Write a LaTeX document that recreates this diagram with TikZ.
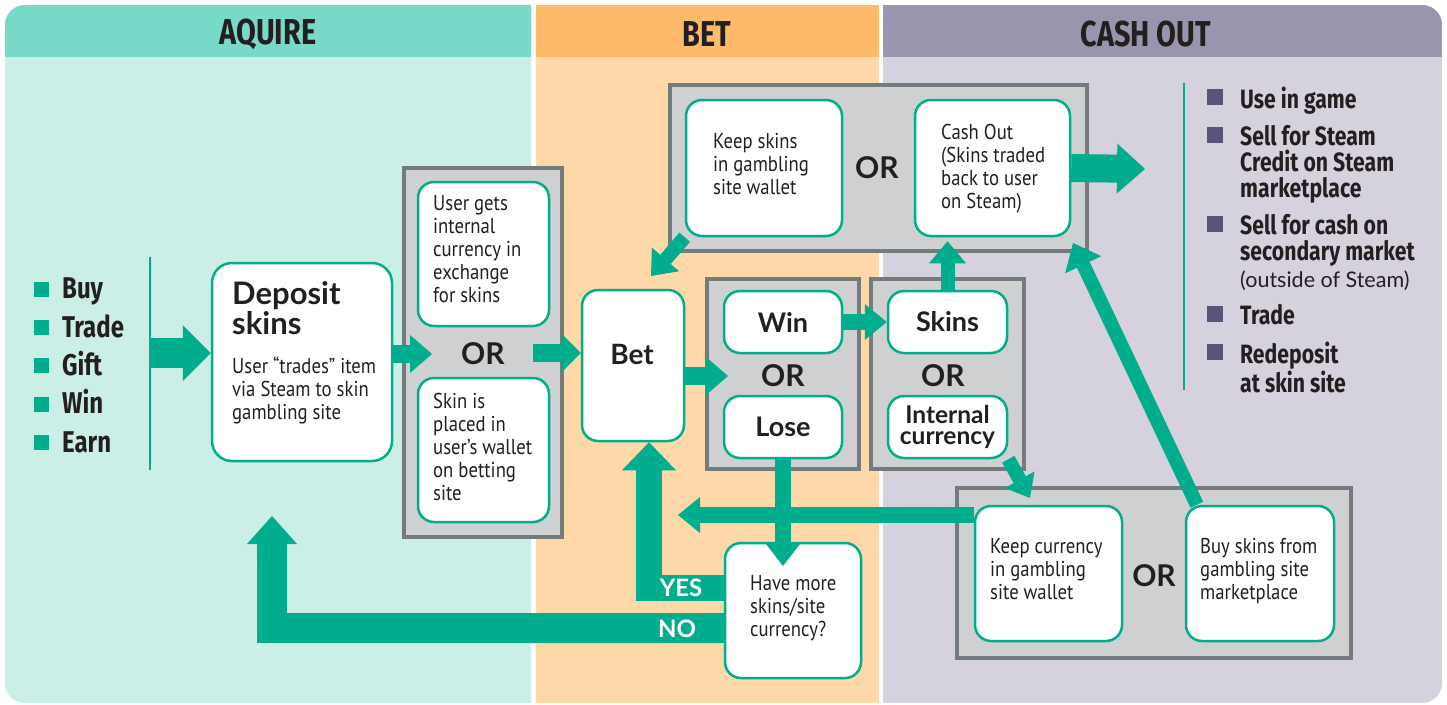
\documentclass[tikz,border=0pt]{standalone}
\usepackage{fontspec}
\usetikzlibrary{arrows.meta,calc}
\newfontfamily\condf[FakeStretch=0.87]{PT Sans}
\newfontfamily\headf[FakeStretch=0.8]{Fira Sans}
\newfontfamily\geof{Lato}
\definecolor{teal1}{RGB}{0,173,141}
\definecolor{darktext}{RGB}{35,31,32}
\definecolor{aqhead}{RGB}{119,218,201}
\definecolor{aqbody}{RGB}{203,239,230}
\definecolor{bethead}{RGB}{253,186,106}
\definecolor{betbody}{RGB}{253,216,169}
\definecolor{cohead}{RGB}{154,149,174}
\definecolor{cobody}{RGB}{213,210,222}
\definecolor{grayf}{RGB}{207,208,210}
\definecolor{grayb}{RGB}{115,123,124}
\definecolor{sqpurple}{RGB}{87,83,122}
\pgfdeclarelayer{back}
\pgfdeclarelayer{mid}
\pgfsetlayers{back,mid,main}
\tikzset{
  wbox/.style={draw=teal1, line width=2.5pt, fill=white, rounded corners=16pt, inner sep=0pt},
  gbox/.style={draw=grayb, line width=3.5pt, fill=grayf, inner sep=0pt},
  bt/.style={font=\condf\fontsize{21.5}{23}\selectfont, align=left, anchor=north west, inner sep=0pt, text=darktext},
  gt/.style={font=\geof\bfseries\fontsize{27}{27}\selectfont, text=darktext, inner sep=0pt},
  ortxt/.style={font=\geof\bfseries\fontsize{30}{30}\selectfont, text=darktext, inner sep=0pt},
  hdr/.style={font=\headf\bfseries\fontsize{36}{36}\selectfont, text=darktext, inner sep=0pt},
  rl/.style={font=\headf\bfseries\fontsize{26.5}{26}\selectfont, align=left, anchor=north west, inner sep=0pt, text=darktext},
  sqA/.style={fill=teal1, minimum size=15pt, inner sep=0pt},
  sqB/.style={fill=sqpurple, minimum size=16pt, inner sep=0pt},
  yn/.style={font=\geof\bfseries\fontsize{24}{24}\selectfont, text=white, inner sep=0pt},
  fl/.style args={#1/#2/#3}{draw=teal1, line width=#1, line join=miter,
     -{Triangle[width=#2,length=#3,line width=0pt]}},
}
\begin{document}
\begin{tikzpicture}[x=1pt,y=-1pt]
\useasboundingbox (0,0) rectangle (1447,704);
\begin{pgfonlayer}{back}
\fill[white] (0,0) rectangle (1447,704);
\begin{scope}
\clip[rounded corners=20pt] (5,5) rectangle (1442,703);
\fill[aqbody] (5,5) rectangle (531,703);
\fill[aqhead] (5,5) rectangle (531,57);
\fill[betbody] (536,5) rectangle (879,703);
\fill[bethead] (536,5) rectangle (879,57);
\fill[cobody] (883,5) rectangle (1442,703);
\fill[cohead] (883,5) rectangle (1442,57);
\end{scope}
% gray OR boxes
\node[gbox, minimum width=158pt, minimum height=369pt] (g1) at (483,352.5) {};
\node[gbox, minimum width=152pt, minimum height=190pt] (g2) at (783,374) {};
\node[gbox, minimum width=153pt, minimum height=190pt] (g3) at (947.5,374) {};
\node[gbox, minimum width=417pt, minimum height=166pt] (g4) at (878.5,168) {};
\node[gbox, minimum width=394pt, minimum height=170pt] (g5) at (1154,573) {};
\end{pgfonlayer}

% headers
\node[hdr] (hA) at (268,34) {AQUIRE};
\node[hdr] (hB) at (707,34) {BET};
\node[hdr] (hC) at (1146,34) {CASH OUT};

% left list
\coordinate (lv1) at (150,257);
\coordinate (lv2) at (150,470);
\draw[teal1, line width=1.2pt] (lv1) -- (lv2);
\foreach \i/\y in {1/289,2/327,3/365,4/404,5/442}
  \node[sqA] (lb\i) at (41,\y) {};
\node[font=\headf\bfseries\fontsize{30}{38.3}\selectfont, align=left, anchor=north west, inner sep=0pt, text=darktext] (ll) at (62,278) {Buy\\Trade\\Gift\\Win\\Earn};

% right list
\coordinate (rv1) at (1184,83);
\coordinate (rv2) at (1184,390);
\draw[teal1, line width=1.8pt] (rv1) -- (rv2);
\foreach \i/\y in {1/97,2/135,3/224,4/314,5/352}
  \node[sqB] (rb\i) at (1215,\y) {};
\node[rl] (r1) at (1240,87) {Use in game};
\node[rl] (r2) at (1240,125) {Sell for Steam\\Credit on Steam\\marketplace};
\node[rl] (r3) at (1240,214) {Sell for cash on\\secondary market\\[1pt]{\geof\mdseries\fontsize{21.5}{26}\selectfont (outside of Steam)}};
\node[rl] (r4) at (1240,304) {Trade};
\node[rl] (r5) at (1240,342) {Redeposit\\at skin site};

% white boxes
\node[wbox, rounded corners=20pt, minimum width=180pt, minimum height=198pt] (dep) at (302,362) {};
\node[wbox, minimum width=131pt, minimum height=144pt] (ug) at (483.5,254) {};
\node[wbox, minimum width=131pt, minimum height=144pt] (sp) at (483.5,450) {};
\node[wbox, minimum width=102pt, minimum height=151pt] (bet) at (633,365.5) {};
\node[wbox, minimum width=118pt, minimum height=62pt, gt] (win) at (783,322) {Win};
\node[wbox, minimum width=118pt, minimum height=62pt, gt] (lose) at (783,427) {Lose};
\node[wbox, minimum width=119pt, minimum height=62pt, gt] (skins) at (947.5,322) {Skins};
\node[wbox, minimum width=119pt, minimum height=62pt] (ic) at (947.5,427) {};
\node[wbox, minimum width=156pt, minimum height=136pt] (ks) at (764,168) {};
\node[wbox, minimum width=155pt, minimum height=136pt] (cash) at (992.5,168) {};
\node[wbox, minimum width=147pt, minimum height=135pt] (kc) at (1048.5,573.5) {};
\node[wbox, minimum width=148pt, minimum height=135pt] (bs) at (1260,573.5) {};
\node[wbox, minimum width=136pt, minimum height=135pt] (hm) at (793,610.5) {};

% box texts
\node[gt, font=\geof\bfseries\fontsize{28}{28}\selectfont] (tbet) at (632,354) {Bet};
\node[gt, font=\geof\bfseries\fontsize{24.5}{21.5}\selectfont, align=center] (tic) at (947.5,427) {Internal\\currency};
\node[gt, font=\geof\bfseries\fontsize{31}{30}\selectfont, align=left, anchor=north west] (tdep) at (232,281) {Deposit\\skins};
\node[bt] (tdep2) at (232,357) {User “trades” item\\via Steam to skin\\gambling site};
\node[bt] (tug) at (433,195) {User gets\\internal\\currency in\\exchange\\for skins};
\node[bt] (tsp) at (433,393) {Skin is\\placed in\\user’s wallet\\on betting\\site};
\node[bt] (tks) at (713,133) {Keep skins\\in gambling\\site wallet};
\node[bt] (tco) at (941,124) {Cash Out\\(Skins traded\\back to user\\on Steam)};
\node[bt] (tkc) at (990,538) {Keep currency\\in gambling\\site wallet};
\node[bt] (tbs) at (1200,538) {Buy skins from\\gambling site\\marketplace};
\node[bt] (thm) at (750,575) {Have more\\skins/site\\currency?};

% OR labels
\node[ortxt] (or1) at (483,354) {OR};
\node[ortxt] (or2) at (783,376) {OR};
\node[ortxt] (or3) at (943,376) {OR};
\node[ortxt] (or4) at (877,168) {OR};
\node[ortxt] (or5) at (1154,576) {OR};

% free arrow ends
\coordinate (lst) at (150,353);
\coordinate (or1tip) at (432,354);
\coordinate (or1out) at (533,353);
\coordinate (wltip) at (728,376);
\coordinate (outtip) at (1145,169);
\coordinate (bettop) at (651,276);
\coordinate (kctip) at (1030,498);
\coordinate (cotip) at (1073,243);
\coordinate (lefttip) at (678,515);
\coordinate (notip) at (272,516);
\coordinate (bsstart) at ($(bs.north west)!0.08!(bs.north east)$);

% arrows under white boxes
\begin{pgfonlayer}{mid}
\draw[fl={14pt/36pt/22pt}] (ks.south west) -- (bettop);
\draw[fl={14pt/34pt/21pt}] (ic.south east) -- (kctip);
\draw[fl={14pt/40pt/24pt}] (bsstart) -- (cotip);
\end{pgfonlayer}

% arrows on top
\draw[fl={30pt/56pt/28pt}] (lst) -- (dep.west |- 0,353);
\draw[fl={18pt/38pt/22pt}] (dep.east |- 0,354) -- (or1tip);
\draw[fl={18pt/40pt/20pt}] (or1out) -- (bet.west |- 0,353);
\draw[fl={18pt/38pt/22pt}] (bet.east |- 0,376) -- (wltip);
\draw[fl={16pt/36pt/22pt}] (win.east) -- (skins.west);
\draw[fl={14pt/37pt/22pt}] (skins.north) -- ($(skins.north |- cash.south)+(0,4)$);
\draw[fl={28pt/50pt/28pt}] (cash.east) -- (outtip);
\draw[fl={16pt/36pt/22pt}] (kc.west |- 0,515) -- (lefttip);
\draw[fl={16pt/34pt/22pt}] (lose.south) -- (lose.south |- 0,566);
\draw[fl={26pt/54pt/28pt}] (hm.west |- 0,588) -- (649,588) -- (bet.south -| 649,0);
\draw[fl={30pt/50pt/28pt}] (hm.west |- 0,628) -- (272,628) -- (notip);

\node[yn] (yes) at (681,588) {YES};
\node[yn] (no) at (677,629) {NO};
\end{tikzpicture}
\end{document}
